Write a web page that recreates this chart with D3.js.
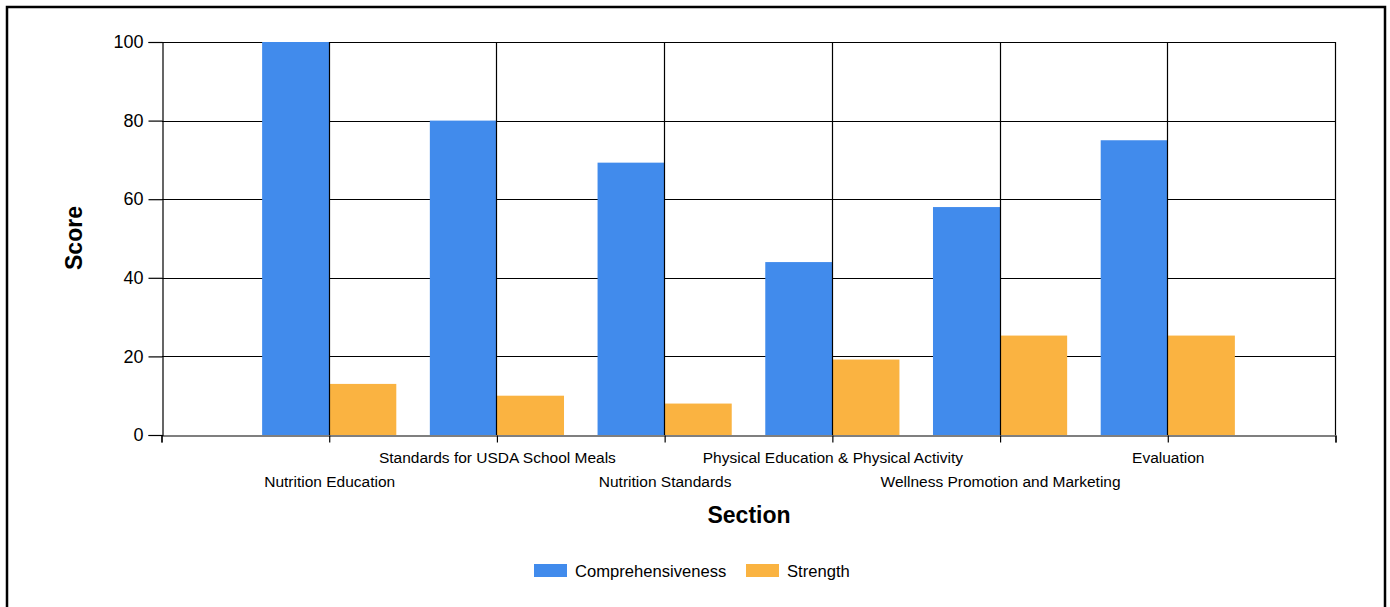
<!DOCTYPE html>
<html>
<head>
<meta charset="utf-8">
<script src="https://cdn.jsdelivr.net/npm/d3@7"></script>
<style>
  html, body { margin: 0; padding: 0; background: #fff; }
  svg { display: block; }
  text { font-family: "Liberation Sans", Arial, sans-serif; fill: #000; }
</style>
</head>
<body>
<svg id="chart" width="1390" height="607"></svg>
<script>
const categories = ["Nutrition Education", "Standards for USDA School Meals", "Nutrition Standards",
  "Physical Education & Physical Activity", "Wellness Promotion and Marketing", "Evaluation"];
const seriesNames = ["Comprehensiveness", "Strength"];
const comprehensiveness = [100, 80, 69.3, 44, 58, 75];
const strength = [13, 10, 8, 19.2, 25.3, 25.3];
const yTicks = [0, 20, 40, 60, 80, 100];
const colors = ["#418bec", "#fab341"];

const svg = d3.select("#chart");

// outer border
svg.append("rect").attr("x", 7).attr("y", 7).attr("width", 1378).attr("height", 640)
  .attr("fill", "none").attr("stroke", "#000").attr("stroke-width", 2.5);

const L = 162, R = 1336, T = 42, B = 435;
const xLin = d3.scaleLinear().domain([0, categories.length + 1]).range([L, R]);
const y = d3.scaleLinear().domain([0, 100]).range([B, T]);
const x0 = d3.scaleBand().domain(categories)
  .range([xLin(0.5), xLin(categories.length + 0.5)])
  .paddingInner(0.2).paddingOuter(0.1);
const x1 = d3.scaleBand().domain(seriesNames).range([0, x0.bandwidth()]);

const data = categories.map((c, i) => ({ cat: c, vals: [comprehensiveness[i], strength[i]] }));

// horizontal gridlines
svg.append("g").selectAll("line").data(yTicks.filter(t => t > 0)).join("line")
  .attr("x1", L).attr("x2", R).attr("y1", d => Math.round(y(d)) + 0.5).attr("y2", d => Math.round(y(d)) + 0.5)
  .attr("stroke", "#000").attr("stroke-width", 1.2);

// bars
const groups = svg.append("g").selectAll("g").data(data).join("g")
  .attr("transform", d => `translate(${x0(d.cat) - 0.5},0)`);
groups.selectAll("rect").data(d => d.vals.map((v, k) => ({ s: seriesNames[k], v, k }))).join("rect")
  .attr("x", d => x1(d.s)).attr("width", x1.bandwidth())
  .attr("y", d => y(d.v)).attr("height", d => y(0) - y(d.v))
  .attr("fill", d => colors[d.k]);

// vertical gridlines at category centers + right edge
const vt = d3.range(1, categories.length + 2);
svg.append("g").selectAll("line").data(vt).join("line")
  .attr("x1", d => Math.round(xLin(d)) - 0.5).attr("x2", d => Math.round(xLin(d)) - 0.5)
  .attr("y1", T).attr("y2", B)
  .attr("stroke", "#000").attr("stroke-width", 1.2);

// y axis
const yAxis = d3.axisLeft(y).tickValues(yTicks).tickSize(14).tickPadding(5);
const gy = svg.append("g").attr("transform", `translate(${L + 0.5},0)`).call(yAxis);
gy.select(".domain").attr("stroke", "#000").attr("stroke-width", 1.2);
gy.selectAll(".tick line").attr("stroke-width", 1.2);
gy.selectAll(".tick text").style("font-size", "18px").attr("fill", "#000");

// x axis (ticks at boundaries)
const xAxis = d3.axisBottom(xLin).tickValues(d3.range(0, categories.length + 2)).tickSize(7).tickFormat("");
const gx = svg.append("g").attr("transform", `translate(-0.5,${B + 0.5})`).call(xAxis);
gx.select(".domain").attr("stroke", "#000").attr("stroke-width", 1.2);
gx.selectAll(".tick line").attr("stroke-width", 1.2);

// category labels (staggered)
svg.append("g").selectAll("text").data(categories).join("text")
  .attr("x", (d, i) => xLin(i + 1))
  .attr("y", (d, i) => i % 2 === 0 ? 487 : 463)
  .attr("text-anchor", "middle")
  .style("font-size", "15.5px")
  .text(d => d);

// axis titles
svg.append("text").attr("x", 749).attr("y", 523).attr("text-anchor", "middle")
  .style("font-size", "23px").style("font-weight", "bold").text("Section");
svg.append("text").attr("transform", "translate(82,238) rotate(-90)").attr("text-anchor", "middle")
  .style("font-size", "23px").style("font-weight", "bold").text("Score");

// legend
const legendX = [534, 746];
const lg = svg.append("g").selectAll("g").data(seriesNames).join("g")
  .attr("transform", (d, i) => `translate(${legendX[i]},564)`);
lg.append("rect").attr("width", 33).attr("height", 13).attr("fill", (d, i) => colors[i]);
lg.append("text").attr("x", 41).attr("y", 13).style("font-size", "16.6px").text(d => d);
</script>
</body>
</html>
